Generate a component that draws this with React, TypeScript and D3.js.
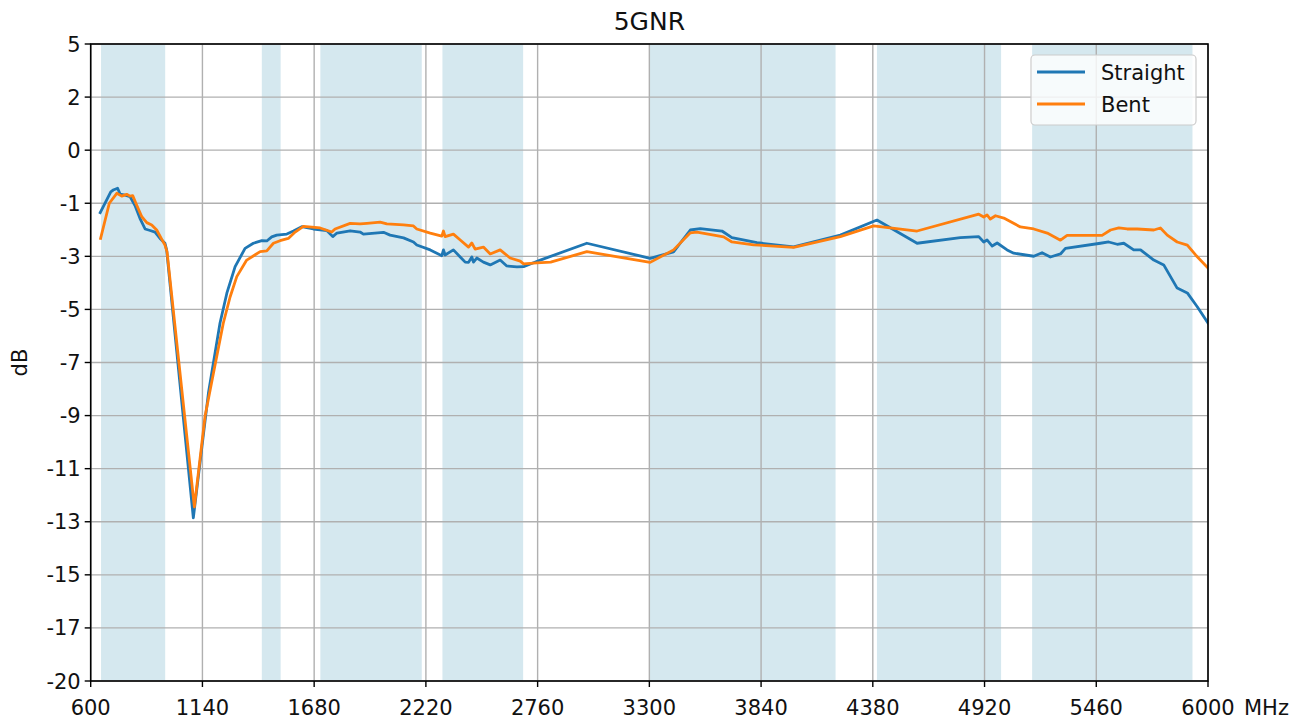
import {useMemo} from 'react';
import * as d3 from 'd3';

// frequencies (MHz) and gain (dB)
const straightMHz = [646, 697, 709, 730, 742, 766, 790, 814, 838, 863, 887, 911, 935, 959, 967, 1096, 1169, 1225, 1258, 1298,
	1346, 1386, 1427, 1451, 1475, 1499, 1548, 1580, 1620, 1676, 1741, 1770, 1790, 1854, 1902, 1918, 2015, 2047, 2112, 2160,
	2176, 2241, 2297, 2305, 2313, 2353, 2386, 2410, 2426, 2442, 2450, 2466, 2498, 2531, 2579, 2611, 2660, 2692, 2773, 2998,
	3304, 3417, 3498, 3546, 3651, 3699, 3820, 3997, 4223, 4400, 4594, 4803, 4892, 4916, 4932, 4957, 4981, 5029, 5061, 5158,
	5198, 5238, 5287, 5311, 5480, 5520, 5561, 5593, 5641, 5674, 5738, 5786, 5851, 5900, 5948, 6000];
const straightDb = [-1.62, -0.80, -0.73, -0.66, -0.89, -0.93, -0.99, -1.34, -1.84, -2.26, -2.32, -2.38, -2.63, -2.82, -3.08, -13.60, -8.70, -5.95, -4.78, -3.74,
	-3.02, -2.82, -2.72, -2.73, -2.57, -2.50, -2.46, -2.34, -2.17, -2.26, -2.32, -2.56, -2.42, -2.33, -2.38, -2.46, -2.39, -2.50, -2.61, -2.77,
	-2.89, -3.08, -3.31, -3.08, -3.28, -3.08, -3.36, -3.56, -3.57, -3.36, -3.56, -3.40, -3.56, -3.67, -3.48, -3.71, -3.75, -3.74, -3.48, -2.82,
	-3.41, -3.16, -2.30, -2.25, -2.34, -2.60, -2.80, -2.96, -2.50, -1.91, -2.82, -2.60, -2.56, -2.77, -2.69, -2.93, -2.81, -3.08, -3.21, -3.33,
	-3.19, -3.36, -3.24, -3.02, -2.82, -2.77, -2.86, -2.82, -3.08, -3.08, -3.48, -3.67, -4.58, -4.77, -5.31, -5.95];

const bentMHz = [648, 690, 726, 750, 774, 790, 803, 822, 847, 871, 895, 919, 943, 959, 969, 1101, 1153, 1201, 1241, 1274,
	1306, 1354, 1419, 1451, 1483, 1515, 1555, 1588, 1628, 1709, 1765, 1781, 1854, 1902, 1935, 1999, 2031, 2112, 2160, 2176,
	2241, 2297, 2305, 2313, 2353, 2386, 2426, 2442, 2458, 2498, 2531, 2579, 2627, 2676, 2692, 2756, 2823, 2998, 3304, 3417,
	3498, 3530, 3659, 3699, 3804, 3997, 4223, 4384, 4594, 4892, 4916, 4932, 4948, 4973, 5013, 5093, 5158, 5223, 5287, 5319,
	5488, 5529, 5569, 5609, 5658, 5738, 5770, 5803, 5851, 5900, 5940, 6000];
const bentDb = [-2.63, -1.25, -0.86, -0.97, -0.90, -0.97, -0.95, -1.32, -1.78, -2.01, -2.10, -2.30, -2.66, -2.89, -3.16, -13.17, -9.59, -7.60, -5.95, -4.92,
	-4.13, -3.48, -3.15, -3.12, -2.82, -2.72, -2.63, -2.38, -2.16, -2.22, -2.38, -2.26, -2.04, -2.06, -2.04, -1.99, -2.06, -2.10, -2.14, -2.26,
	-2.42, -2.54, -2.34, -2.56, -2.46, -2.69, -2.97, -2.81, -3.05, -2.97, -3.24, -3.08, -3.40, -3.52, -3.63, -3.59, -3.56, -3.15, -3.57, -3.08,
	-2.41, -2.38, -2.57, -2.77, -2.88, -2.98, -2.56, -2.14, -2.34, -1.68, -1.79, -1.71, -1.87, -1.74, -1.83, -2.18, -2.26, -2.42, -2.70, -2.51,
	-2.51, -2.30, -2.22, -2.26, -2.26, -2.30, -2.22, -2.50, -2.77, -2.89, -3.28, -3.79];

// 5G NR bands shaded behind the traces
const bandStart = [650, 1427, 1710, 2300, 3300, 4400, 5150];
const bandEnd = [960, 1518, 2200, 2690, 4200, 5000, 5925];

const xTicks = [600, 1140, 1680, 2220, 2760, 3300, 3840, 4380, 4920, 5460, 6000];
const yDomain = [-20, 5];
const yTickCount = 13;

const seriesNames = ['Straight', 'Bent'];
const seriesColors = ['#1f77b4', '#ff7f0e'];

const W = 1305, H = 722;
const left = 90.7, right = 1208, top = 44, bottom = 681;
const font = '"DejaVu Sans", sans-serif';

export default function App(){
	const x = d3.scaleLinear().domain([600, 6000]).range([left, right]);
	const y = d3.scaleLinear().domain(yDomain).range([bottom, top]);

	// evenly spaced y ticks, labels truncated like the original
	const yTicks = d3.range(yTickCount).map((i)=>yDomain[1] - i * (yDomain[1] - yDomain[0]) / (yTickCount - 1));

	const line = d3.line<[number, number]>().x((d)=>x(d[0])).y((d)=>y(d[1]));

	const series = useMemo(()=>[
		d3.zip(straightMHz, straightDb) as [number, number][],
		d3.zip(bentMHz, bentDb) as [number, number][]
	], []);

	return (<svg width={W} height={H} style={{position: 'absolute', left: 0, top: 0, background: '#fff'}} fontFamily={font}>
		<defs>
			<clipPath id="plot"><rect x={left} y={top} width={right - left} height={bottom - top}/></clipPath>
		</defs>

		{bandStart.map((s, i)=>(<rect key={'b' + i} x={x(s)} y={top} width={x(bandEnd[i]) - x(s)} height={bottom - top} fill="#d5e8ef"/>))}

		{xTicks.map((t)=>(<line key={'gx' + t} x1={x(t)} x2={x(t)} y1={top} y2={bottom} stroke="#b0b0b0" strokeWidth={1.4}/>))}
		{yTicks.map((t, i)=>(<line key={'gy' + i} x1={left} x2={right} y1={y(t)} y2={y(t)} stroke="#b0b0b0" strokeWidth={1.4}/>))}

		<g clipPath="url(#plot)">
			{series.map((s, i)=>(<path key={'s' + i} d={line(s) || ''} fill="none" stroke={seriesColors[i]} strokeWidth={2.8} strokeLinejoin="round" strokeLinecap="square"/>))}
		</g>

		<rect x={left} y={top} width={right - left} height={bottom - top} fill="none" stroke="#000" strokeWidth={1.6}/>

		{xTicks.map((t)=>(<g key={'tx' + t}>
			<line x1={x(t)} x2={x(t)} y1={bottom} y2={bottom + 6} stroke="#000" strokeWidth={1.4}/>
			<text x={x(t)} y={bottom + 34} fontSize={21} textAnchor="middle" fill="#111">{t}</text>
		</g>))}
		<text x={right + 36} y={bottom + 34} fontSize={21} fill="#111">MHz</text>

		{yTicks.map((t, i)=>(<g key={'ty' + i}>
			<line x1={left - 6} x2={left} y1={y(t)} y2={y(t)} stroke="#000" strokeWidth={1.4}/>
			<text x={left - 10} y={y(t) + 7.5} fontSize={21} textAnchor="end" fill="#111">{String(Math.trunc(t) || 0)}</text>
		</g>))}

		<text transform={`translate(27, ${(top + bottom) / 2}) rotate(-90)`} fontSize={21} textAnchor="middle" fill="#111">dB</text>
		<text x={(left + right) / 2} y={30} fontSize={25} textAnchor="middle" fill="#111">5GNR</text>

		<g>
			<rect x={1031} y={55} width={165} height={70} rx={4} fill="#fff" fillOpacity={0.8} stroke="#cccccc" strokeWidth={1.2}/>
			{seriesNames.map((n, i)=>(<g key={'l' + i}>
				<line x1={1037} x2={1085} y1={72 + i * 32} y2={72 + i * 32} stroke={seriesColors[i]} strokeWidth={2.8}/>
				<text x={1101} y={79.5 + i * 32} fontSize={21} fill="#111">{n}</text>
			</g>))}
		</g>
	</svg>);
}
